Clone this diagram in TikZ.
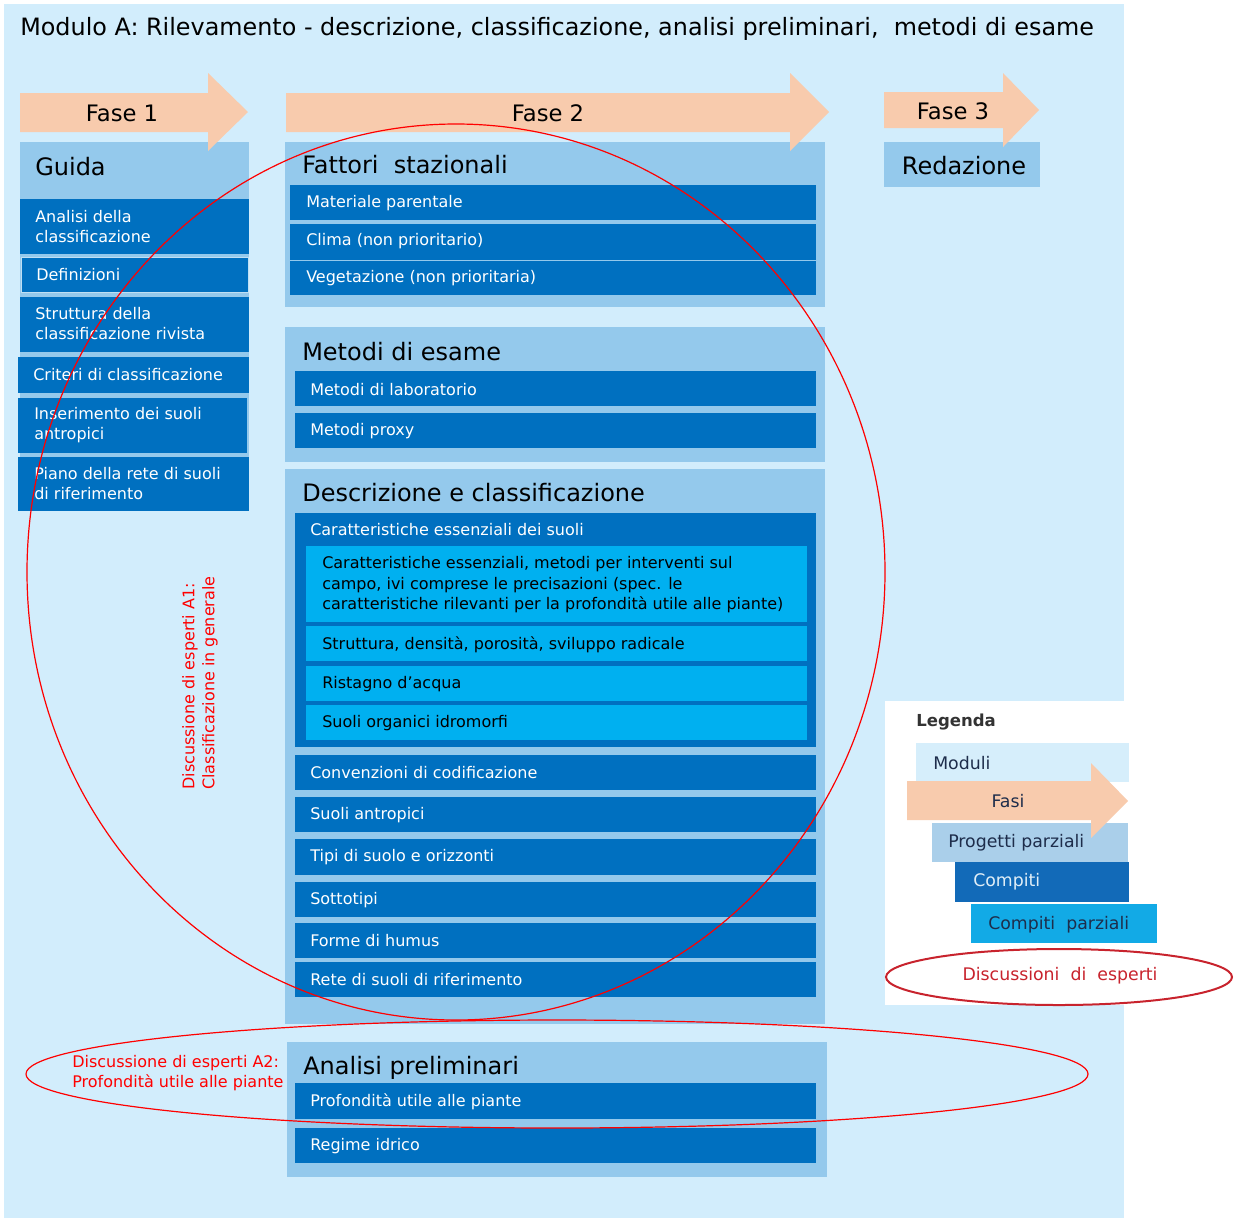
\documentclass[tikz,border=0pt]{standalone}
\usepackage{fontspec}
\setmainfont{DejaVu Sans}
\newfontfamily\legfont{DejaVu Sans}
\definecolor{sfondo}{RGB}{210,237,252}
\definecolor{pannello}{RGB}{148,201,236}
\definecolor{blu}{RGB}{0,112,192}
\definecolor{ciano}{RGB}{0,176,240}
\definecolor{pesca}{RGB}{248,203,173}
\definecolor{legmod}{RGB}{214,238,251}
\definecolor{legprog}{RGB}{170,207,234}
\definecolor{legblu}{RGB}{18,106,184}
\definecolor{legciano}{RGB}{18,170,230}
\definecolor{legtesto}{RGB}{30,45,75}
\definecolor{legrosso}{RGB}{200,35,45}
\begin{document}
\begin{tikzpicture}[x=0.75pt,y=0.75pt,yscale=-1,xscale=1,
  titolo/.style={anchor=west,inner sep=0pt,font=\fontsize{17.9}{21}\selectfont},
  fase/.style={inner sep=0pt,font=\fontsize{17}{21}\selectfont},
  testata/.style={anchor=west,inner sep=0pt,font=\fontsize{18}{22}\selectfont},
  voce/.style={anchor=west,inner sep=0pt,align=left,text=white,font=\fontsize{12}{15}\selectfont},
  sottovoce/.style={anchor=west,inner sep=0pt,align=left,text=black,font=\fontsize{12}{15.4}\selectfont},
  nota/.style={inner sep=0pt,align=left,text=red,font=\fontsize{12}{15}\selectfont},
  leg/.style={anchor=west,inner sep=0pt,text=legtesto,font=\legfont\fontsize{13}{16}\selectfont}]
\useasboundingbox (0,0) rectangle (1234,1218);

%Shape: Rectangle [sfondo modulo]
\fill [sfondo] (4,4) rectangle (1124,1218);

% Text Node
\draw (20,29) node [titolo] (titolo) {Modulo A: Rilevamento - descrizione, classificazione, analisi preliminari,\ \ metodi di esame};

%Shape: Rectangle [Guida]
\fill [pannello] (20,142) rectangle (249,511);
\fill [blu] (20,199) rectangle (249,254);
\filldraw [fill=blu, draw=pannello!60!white, line width=0.75] (21,257) rectangle (248,292);
\fill [blu] (20,297) rectangle (249,352);
\fill [blu] (18,357) rectangle (249,393);
\fill [blu] (18,398) rectangle (247,453);
\fill [blu] (18,457) rectangle (249,511);

%Shape: Rectangle [Fattori stazionali]
\fill [pannello] (285,142) rectangle (825,307);
\fill [blu] (290,185) rectangle (816,220);
\fill [blu] (290,224) rectangle (816,259.5);
\fill [blu] (290,260.5) rectangle (816,295);

%Shape: Rectangle [Metodi di esame]
\fill [pannello] (285,327) rectangle (825,462);
\fill [blu] (295,371) rectangle (816,406);
\fill [blu] (295,413) rectangle (816,448);

%Shape: Rectangle [Descrizione e classificazione]
\fill [pannello] (285,469) rectangle (825,1024);
\fill [blu] (295,513) rectangle (816,747);
\fill [ciano] (306,546) rectangle (807,622);
\fill [ciano] (306,626) rectangle (807,661);
\fill [ciano] (306,666) rectangle (807,701);
\fill [ciano] (306,705) rectangle (807,740);
\fill [blu] (295,755) rectangle (816,790);
\fill [blu] (295,797) rectangle (816,832);
\fill [blu] (295,839) rectangle (816,875);
\fill [blu] (295,882) rectangle (816,917);
\fill [blu] (295,923) rectangle (816,958);
\fill [blu] (295,962) rectangle (816,997);

%Shape: Rectangle [Analisi preliminari]
\fill [pannello] (287,1042) rectangle (827,1177);
\fill [blu] (295,1083) rectangle (816,1119);
\fill [blu] (295,1128) rectangle (816,1163);

%Shape: Rectangle [Redazione]
\fill [pannello] (884,142) rectangle (1040,187);

%Right Arrow [fase 1]
\fill [pesca] (20,93) -- (208,93) -- (208,73) -- (248,112) -- (208,151) -- (208,132) -- (20,132) -- cycle;
%Right Arrow [fase 2]
\fill [pesca] (286,93) -- (790,93) -- (790,73) -- (829,112) -- (790,151) -- (790,132) -- (286,132) -- cycle;
%Right Arrow [fase 3]
\fill [pesca] (884,92) -- (1003,92) -- (1003,73) -- (1039,110) -- (1003,147) -- (1003,128) -- (884,128) -- cycle;

% Text Node
\draw (122,113) node [fase] (fase1) {Fase 1};
% Text Node
\draw (548,113) node [fase] (fase2) {Fase 2};
% Text Node
\draw (953,111) node [fase] (fase3) {Fase 3};
% Text Node
\draw (964,166) node [fase, font=\fontsize{18}{22}\selectfont] (redazione) {Redazione};

% Text Node
\draw (35,167) node [testata] (guida) {Guida};
\draw (35,227) node [voce] (analisi) {Analisi della\\classificazione};
\draw (36,275) node [voce] (definizioni) {Definizioni};
\draw (35,324) node [voce] (struttura) {Struttura della\\classificazione rivista};
\draw (33,375) node [voce] (criteri) {Criteri di classificazione};
\draw (34,425) node [voce] (inserimento) {Inserimento dei suoli\\antropici};
\draw (34,484) node [voce] (piano) {Piano della rete di suoli\\di riferimento};

% Text Node
\draw (302,165) node [testata] (fattori) {Fattori\ \ stazionali};
\draw (306,203) node [voce] (materiale) {Materiale parentale};
\draw (306,241) node [voce] (clima) {Clima (non prioritario)};
\draw (306,278) node [voce] (vegetazione) {Vegetazione (non prioritaria)};

% Text Node
\draw (302,352) node [testata] (metodi) {Metodi di esame};
\draw (310,390) node [voce] (laboratorio) {Metodi di laboratorio};
\draw (310,431) node [voce] (proxy) {Metodi proxy};

% Text Node
\draw (302,493) node [testata] (descrizione) {Descrizione e classificazione};
\draw (310,530) node [voce] (caratteristiche) {Caratteristiche essenziali dei suoli};
\draw (322,585) node [sottovoce] (campo) {Caratteristiche essenziali, metodi per interventi sul\\campo, ivi comprese le precisazioni (spec. le\\caratteristiche rilevanti per la profondità utile alle piante)};
\draw (322,645) node [sottovoce] (densita) {Struttura, densità, porosità, sviluppo radicale};
\draw (322,684) node [sottovoce] (ristagno) {Ristagno d’acqua};
\draw (322,723) node [sottovoce] (organici) {Suoli organici idromorfi};
\draw (310,773) node [voce] (convenzioni) {Convenzioni di codificazione};
\draw (310,815) node [voce] (antropici) {Suoli antropici};
\draw (310,857) node [voce] (tipi) {Tipi di suolo e orizzonti};
\draw (310,900) node [voce] (sottotipi) {Sottotipi};
\draw (310,941) node [voce] (humus) {Forme di humus};
\draw (310,980) node [voce] (rete) {Rete di suoli di riferimento};

% Text Node
\draw (303,1068) node [testata] (preliminari) {Analisi preliminari};
\draw (310,1102) node [voce] (profondita) {Profondità utile alle piante};
\draw (310,1146) node [voce] (regime) {Regime idrico};

%Shape: Ellipse [discussioni]
\draw [red, line width=0.9] (456,572) ellipse [x radius=429, y radius=448];
\draw [red, line width=0.9] (557,1074) ellipse [x radius=531, y radius=54];

% Text Node
\draw (200,790) node [nota, rotate=90, anchor=west] (esperti1) {Discussione di esperti A1:\\Classificazione in generale};
\draw (72,1073) node [nota, anchor=west] (esperti2) {Discussione di esperti A2:\\Profondità utile alle piante};

%Shape: Rectangle [legenda]
\fill [white] (885,701) rectangle (1124,1005);
\fill [legmod] (916,743) rectangle (1129,782);
\fill [legprog] (932,823) rectangle (1128,862);
\fill [legblu] (955,862) rectangle (1129,902);
\fill [legciano] (971,904) rectangle (1157,943);
\fill [pesca] (907,781) -- (1091,781) -- (1091,763) -- (1128,801) -- (1091,838) -- (1091,820) -- (907,820) -- cycle;
\draw [legrosso, line width=1.5] (1059,977) ellipse [x radius=173, y radius=28];

% Text Node
\draw (916,722) node [leg, font=\legfont\bfseries\fontsize{12.4}{15}\selectfont, text=black!80] (legenda) {Legenda};
\draw (933,763) node [leg] (moduli) {Moduli};
\draw (1008,801) node [leg, anchor=center] (fasi) {Fasi};
\draw (948,843) node [leg] (progetti) {Progetti parziali};
\draw (973,882) node [leg, text=white!88!blu] (compiti) {Compiti};
\draw (988,925) node [leg] (parziali) {Compiti\ \ parziali};
\draw (1060,976) node [leg, anchor=center, text=legrosso] (esperti) {Discussioni\ \ di\ \ esperti};

\end{tikzpicture}
\end{document}
